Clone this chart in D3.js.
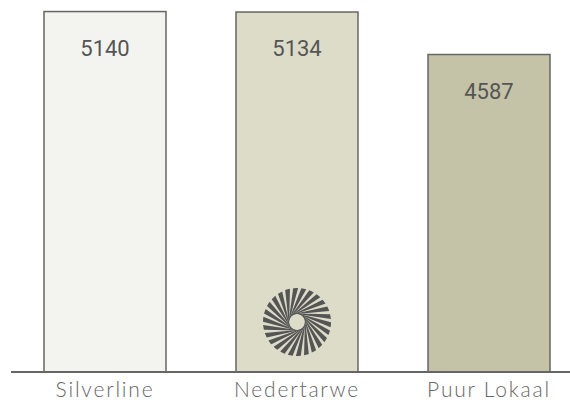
<!DOCTYPE html>
<html>
<head>
<meta charset="utf-8">
<script src="https://cdn.jsdelivr.net/npm/d3@7"></script>
<style>
  html, body { margin: 0; padding: 0; background: #fff; }
  svg { display: block; }
  .bar-value { font-family: Roboto, "Noto Sans", sans-serif; font-size: 22px; fill: #555; }
  .cat-label { font-family: Lato, "Open Sans", sans-serif; font-weight: 300; font-size: 21px; fill: #666; letter-spacing: 1.8px; }
</style>
</head>
<body>
<div id="chart"></div>
<script>
const categories = ['Silverline', 'Nedertarwe', 'Puur Lokaal'];
const values = [5140, 5134, 4587];
const barColors = ['#f3f4ef', '#dcdcc9', '#c4c2a7'];

const width = 570;
const height = 406;
const baseline = 372;

const svg = d3.select('#chart')
  .append('svg')
  .attr('width', width)
  .attr('height', height);

const x = d3.scaleBand()
  .domain(categories)
  .range([-26, 620])
  .padding(0.3646);

const y = d3.scaleLinear()
  .domain([500, 5160])
  .range([baseline, 10]);

svg.selectAll('.bar')
  .data(categories)
  .enter()
  .append('rect')
  .attr('class', 'bar')
  .attr('x', (d) => x(d))
  .attr('y', (d, i) => y(values[i]))
  .attr('width', x.bandwidth())
  .attr('height', (d, i) => baseline - y(values[i]))
  .attr('fill', (d, i) => barColors[i])
  .attr('stroke', '#666')
  .attr('stroke-width', 1.5);

svg.selectAll('.bar-value')
  .data(categories)
  .enter()
  .append('text')
  .attr('class', 'bar-value')
  .attr('x', (d) => x(d) + x.bandwidth() / 2)
  .attr('y', (d, i) => y(values[i]) + 44)
  .attr('text-anchor', 'middle')
  .text((d, i) => values[i]);

// baseline
svg.append('line')
  .attr('x1', 11)
  .attr('x2', width)
  .attr('y1', baseline)
  .attr('y2', baseline)
  .attr('stroke', '#666')
  .attr('stroke-width', 2);

const xAxis = svg.append('g')
  .attr('transform', `translate(0,${baseline})`)
  .call(d3.axisBottom(x).tickSize(0).tickPadding(10));
xAxis.select('.domain').remove();
xAxis.selectAll('text')
  .attr('class', 'cat-label')
  .attr('font-family', null)
  .attr('font-size', null)
  .attr('fill', null);

// swirl logo in the middle bar
const cx = x('Nedertarwe') + x.bandwidth() / 2;
const cy = baseline - 50;
const outerR = 34;
const innerR = 9;
const blades = 26;
const logo = svg.append('g').attr('transform', `translate(${cx},${cy})`);
d3.range(blades).forEach((i) => {
  const a = (i / blades) * Math.PI * 2;
  const sweep = 1.7;
  const w = (Math.PI * 2 / blades) * 0.6;
  const p0 = [innerR * Math.cos(a), innerR * Math.sin(a)];
  const p1 = [outerR * Math.cos(a + sweep), outerR * Math.sin(a + sweep)];
  const p2 = [outerR * Math.cos(a + sweep + w), outerR * Math.sin(a + sweep + w)];
  logo.append('path')
    .attr('d', `M${p0[0]},${p0[1]}L${p1[0]},${p1[1]}A${outerR},${outerR} 0 0 1 ${p2[0]},${p2[1]}Z`)
    .attr('fill', '#555');
});
</script>
</body>
</html>
